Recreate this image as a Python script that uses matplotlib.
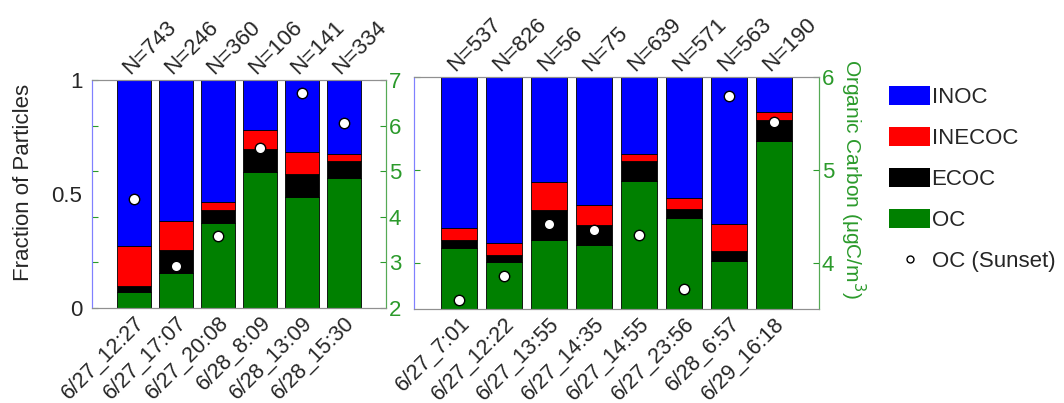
import matplotlib
matplotlib.use("Agg")
import matplotlib.pyplot as plt
import numpy as np
from matplotlib.patches import Patch
from matplotlib.lines import Line2D

plt.rcParams['font.family'] = ['Liberation Sans', 'DejaVu Sans']

# Left panel (fractions of particles by class, and Sunset OC in ugC/m3)
left_labels = ["6/27_12:27", "6/27_17:07", "6/27_20:08", "6/28_8:09", "6/28_13:09", "6/28_15:30"]
left_n = [743, 246, 360, 106, 141, 334]
left_oc = [0.069, 0.153, 0.371, 0.597, 0.485, 0.571]
left_ecoc = [0.026, 0.100, 0.057, 0.101, 0.102, 0.074]
left_inecoc = [0.179, 0.128, 0.038, 0.082, 0.096, 0.029]
left_inoc = [0.726, 0.619, 0.534, 0.220, 0.317, 0.326]
left_sunset = [4.39, 2.93, 3.59, 5.50, 6.72, 6.06]

# Right panel
right_labels = ["6/27_7:01", "6/27_12:22", "6/27_13:55", "6/27_14:35", "6/27_14:55",
                "6/27_23:56", "6/28_6:57", "6/29_16:18"]
right_n = [537, 826, 56, 75, 639, 571, 563, 190]
right_oc = [0.262, 0.201, 0.297, 0.274, 0.553, 0.391, 0.208, 0.723]
right_ecoc = [0.036, 0.033, 0.130, 0.086, 0.083, 0.042, 0.041, 0.091]
right_inecoc = [0.049, 0.050, 0.122, 0.090, 0.034, 0.044, 0.116, 0.034]
right_inoc = [0.653, 0.716, 0.451, 0.550, 0.330, 0.523, 0.635, 0.152]
right_sunset = [3.60, 3.85, 4.42, 4.35, 4.30, 3.72, 5.79, 5.51]

classes = ["OC", "ECOC", "INECOC", "INOC"]
colors = {"OC": "#008000", "ECOC": "#000000", "INECOC": "#ff0000", "INOC": "#0000ff"}
green_txt = "#2b9a2b"
txt = "#262626"
fs = 16

fig = plt.figure(figsize=(10.64, 4.03), dpi=100)


def panel(rect, labels, nvals, parts, sunset, ylim2, yticks2, show_left):
    ax = fig.add_axes(rect)
    x = np.arange(1, len(labels) + 1)
    bottom = np.zeros(len(labels))
    for name, vals in zip(classes, parts):
        ax.bar(x, vals, 0.8, bottom=bottom, color=colors[name],
               edgecolor="black", linewidth=0.6)
        bottom = bottom + np.array(vals)
    ax.set_xlim(0, len(labels) + 1)
    ax.set_ylim(0, 1)
    ax.set_xticks(x)
    ax.set_xticklabels(labels, rotation=45, ha="right", va="top",
                       rotation_mode="anchor", fontsize=15.5, color=txt)
    ax.tick_params(axis="x", length=0, pad=3)
    if show_left:
        ax.set_yticks([0, 0.5, 1])
        ax.set_yticklabels(["0", "0.5", "1"], fontsize=fs, color=txt)
    else:
        ax.set_yticks([])
    ax.tick_params(axis="y", length=0, pad=7)
    for xi, n in zip(x, nvals):
        ax.annotate(f"N={n}", (xi, 1), xytext=(0, 1), textcoords="offset points",
                    rotation=45, ha="left", va="bottom", rotation_mode="anchor",
                    fontsize=fs, color=txt, annotation_clip=False)

    ax2 = ax.twinx()
    ax2.plot(x, sunset, "o", markerfacecolor="white", markeredgecolor="black",
             markersize=7.5, markeredgewidth=1.0, zorder=5)
    ax2.set_ylim(*ylim2)
    ax2.set_yticks(yticks2)
    ax2.tick_params(axis="y", colors=green_txt, labelsize=fs, direction="in",
                    length=4, left=True, pad=2)
    for a in (ax, ax2):
        a.spines["top"].set_color("#909090")
        a.spines["bottom"].set_color("#909090")
        a.spines["left"].set_color("#8080ff")
        a.spines["right"].set_color("#55aa55")
    return ax, ax2


axL, axL2 = panel([0.0865, 0.2357, 0.2763, 0.5658], left_labels, left_n,
                  [left_oc, left_ecoc, left_inecoc, left_inoc], left_sunset,
                  (2, 7), [2, 3, 4, 5, 6, 7], True)
axL.set_ylabel("Fraction of Particles", fontsize=fs, color=txt)
axL.yaxis.set_label_coords(-0.197, 0.55)

axR, axR2 = panel([0.3891, 0.2333, 0.3806, 0.5757], right_labels, right_n,
                  [right_oc, right_ecoc, right_inecoc, right_inoc], right_sunset,
                  (3.5, 6), [4, 5, 6], False)
axR2.set_ylabel("Organic Carbon (\u03bcgC/m$^3$)", fontsize=15, color=green_txt,
                rotation=270, va="bottom")
axR2.yaxis.set_label_coords(1.048, 0.56)

handles = [Patch(facecolor=colors[c]) for c in ["INOC", "INECOC", "ECOC", "OC"]]
handles.append(Line2D([], [], marker="o", linestyle="none", markerfacecolor="white",
                      markeredgecolor="black", markersize=5))
fig.legend(handles, ["INOC", "INECOC", "ECOC", "OC", "OC (Sunset)"],
           loc="upper left", bbox_to_anchor=(0.817, 0.835), frameon=False,
           fontsize=fs, handlelength=1.85, handleheight=0.9, handletextpad=0.05,
           labelspacing=0.86, labelcolor=txt)

fig.savefig("out.png", dpi=100)
